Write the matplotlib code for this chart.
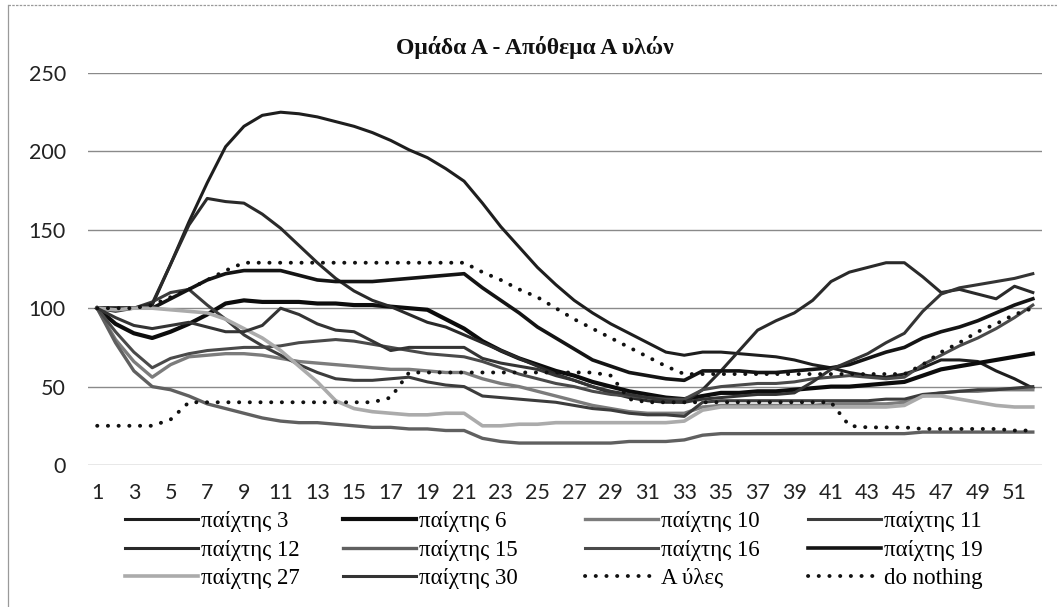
import matplotlib
matplotlib.use("Agg")
import matplotlib.pyplot as plt
from matplotlib.lines import Line2D

# categories 1..52
periods = list(range(1, 53))
xtick_labels = [str(i) for i in range(1, 52, 2)]

p3 = [100, 100, 100, 102, 128, 155, 180, 203, 216, 223, 225, 224, 222, 219, 216, 212, 207, 201, 196, 189,
      181, 167, 152, 139, 126, 115, 105, 97, 90, 84, 78, 72, 70, 72, 72, 71, 70, 69, 67, 64,
      62, 59, 57, 56, 58, 62, 67, 67, 66, 60, 55, 49]
p6 = [100, 90, 84, 81, 85, 90, 96, 103, 105, 104, 104, 104, 103, 103, 102, 102, 101, 100, 99, 93,
      87, 79, 73, 68, 64, 60, 57, 53, 50, 47, 45, 43, 42, 44, 46, 46, 47, 47, 48, 49,
      50, 50, 51, 52, 53, 57, 61, 63, 65, 67, 69, 71]
p10 = [100, 80, 66, 56, 64, 69, 70, 71, 71, 70, 68, 66, 65, 64, 63, 62, 61, 61, 60, 59,
       59, 55, 52, 50, 47, 44, 41, 38, 36, 34, 33, 33, 33, 37, 38, 38, 38, 38, 38, 38,
       39, 39, 39, 39, 40, 44, 46, 47, 47, 48, 48, 48]
p11 = [100, 98, 100, 104, 110, 112, 102, 93, 83, 76, 70, 64, 59, 55, 54, 54, 55, 56, 53, 51,
       50, 44, 43, 42, 41, 40, 38, 36, 35, 33, 32, 32, 31, 40, 41, 41, 41, 41, 41, 41,
       41, 41, 41, 42, 42, 45, 46, 47, 48, 48, 49, 50]
p12 = [100, 100, 100, 103, 128, 153, 170, 168, 167, 160, 151, 140, 129, 119, 111, 105, 101, 96, 91, 88,
       83, 78, 73, 68, 63, 58, 54, 50, 46, 43, 41, 40, 40, 48, 60, 73, 86, 92, 97, 105,
       117, 123, 126, 129, 129, 120, 110, 112, 109, 106, 114, 110]
p15 = [100, 78, 60, 50, 48, 44, 39, 36, 33, 30, 28, 27, 27, 26, 25, 24, 24, 23, 23, 22,
       22, 17, 15, 14, 14, 14, 14, 14, 14, 15, 15, 15, 16, 19, 20, 20, 20, 20, 20, 20,
       20, 20, 20, 20, 20, 21, 21, 21, 21, 21, 21, 21]
p16 = [100, 85, 72, 62, 68, 71, 73, 74, 75, 75, 76, 78, 79, 80, 79, 77, 75, 73, 71, 70,
       69, 66, 62, 58, 55, 52, 50, 47, 45, 44, 43, 42, 42, 48, 50, 51, 52, 52, 53, 55,
       56, 57, 56, 55, 56, 64, 70, 76, 81, 87, 94, 102]
p19 = [100, 100, 100, 100, 106, 112, 118, 122, 124, 124, 124, 121, 118, 117, 117, 117, 118, 119, 120, 121,
       122, 113, 105, 97, 88, 81, 74, 67, 63, 59, 57, 55, 54, 60, 60, 60, 59, 59, 60, 61,
       62, 64, 68, 72, 75, 81, 85, 88, 92, 97, 102, 106]
p27 = [100, 99, 100, 100, 99, 98, 97, 93, 87, 81, 73, 63, 53, 41, 36, 34, 33, 32, 32, 33,
       33, 25, 25, 26, 26, 27, 27, 27, 27, 27, 27, 27, 28, 35, 37, 37, 37, 37, 37, 37,
       37, 37, 37, 37, 38, 44, 44, 42, 40, 38, 37, 37]
p30 = [100, 94, 89, 87, 89, 91, 88, 85, 85, 89, 100, 96, 90, 86, 85, 79, 73, 75, 75, 75,
       75, 68, 65, 63, 61, 57, 54, 50, 47, 45, 43, 41, 40, 42, 43, 44, 45, 45, 46, 53,
       61, 66, 71, 78, 84, 98, 109, 113, 115, 117, 119, 122]
a_yles = [100, 100, 100, 102, 107, 112, 118, 124, 129, 129, 129, 129, 129, 129, 129, 129, 129, 129, 129, 129,
          129, 123, 118, 112, 107, 100, 93, 87, 81, 75, 69, 63, 58, 58, 58, 58, 58, 58, 58, 58,
          58, 58, 58, 58, 58, 64, 72, 78, 85, 90, 96, 100]
do_nothing = [25, 25, 25, 25, 29, 40, 40, 40, 40, 40, 40, 40, 40, 40, 40, 40, 43, 59, 59, 59,
              59, 59, 59, 59, 59, 59, 59, 59, 57, 42, 40, 40, 40, 40, 40, 40, 40, 40, 40, 40,
              40, 25, 24, 24, 24, 23, 23, 23, 23, 23, 22, 22]

series_names = ["παίχτης 3", "παίχτης 6", "παίχτης 10", "παίχτης 11", "παίχτης 12",
                "παίχτης 15", "παίχτης 16", "παίχτης 19", "παίχτης 27", "παίχτης 30",
                "Α ύλες", "do nothing"]
series_values = [p3, p6, p10, p11, p12, p15, p16, p19, p27, p30, a_yles, do_nothing]
colors = ["#1e1e1e", "#0c0c0c", "#7c7c7c", "#3c3c3c", "#2a2a2a",
          "#606060", "#4a4a4a", "#141414", "#ababab", "#343434", "#111111", "#111111"]
widths = [2.2, 3.0, 2.4, 2.2, 2.2, 2.4, 2.2, 2.6, 2.6, 2.2, 2.8, 2.8]

fig = plt.figure(figsize=(10.57, 6.07), dpi=100)
ax = fig.add_axes([88 / 1057, 142 / 607, 954 / 1057, 392 / 607])

handles = []
for name, vals, c, w in zip(series_names, series_values, colors, widths):
    if name in ("Α ύλες", "do nothing"):
        ln, = ax.plot(periods, vals, color=c, lw=w, linestyle=(0, (0.05, 2.7)),
                      dash_capstyle="round", label=name)
    else:
        ln, = ax.plot(periods, vals, color=c, lw=w, solid_joinstyle="round", label=name)
    handles.append(ln)

ax.set_xlim(0.5, 52.5)
ax.set_ylim(0, 250)
ax.set_yticks(range(0, 251, 50))
ax.set_xticks(range(1, 52, 2))
ax.set_xticklabels(xtick_labels)
ax.yaxis.grid(True, color="#8a8a8a", lw=1.0)
ax.set_axisbelow(True)
for s in ax.spines.values():
    s.set_visible(False)
ax.tick_params(length=0, labelsize=15.5, labelcolor="#222222")
ax.tick_params(axis="y", pad=16)
ax.tick_params(axis="x", pad=13)
for lab in ax.get_xticklabels() + ax.get_yticklabels():
    lab.set_family("Lato")

fig.text(0.506, 0.921, "Ομάδα Α - Απόθεμα Α υλών", ha="center", va="center",
         family="Liberation Serif", fontweight="bold", fontsize=17, color="#111111")

# legend: four columns, filled row by row like the original
col_x = [125, 343, 585, 808]
for j, x0 in enumerate(col_x):
    idx = [j, j + 4, j + 8]
    fig.legend([handles[i] for i in idx], [series_names[i] for i in idx],
               loc="upper left", bbox_to_anchor=(x0 / 1057, 1 - 511 / 607),
               frameon=False, borderpad=0, borderaxespad=0, handlelength=3.2,
               handletextpad=0.12, labelspacing=0.33,
               prop={"family": "Liberation Serif", "size": 16.5})

# chart-area border remnants
fig.add_artist(Line2D([8 / 1057, 8 / 1057], [0, 1 - 5 / 607], color="#9a9a9a", lw=0.9))
fig.add_artist(Line2D([8 / 1057, 1], [1 - 5 / 607, 1 - 5 / 607], color="#9a9a9a",
                      lw=0.9, linestyle=(0, (2, 1))))

fig.savefig("out.png", dpi=100)
